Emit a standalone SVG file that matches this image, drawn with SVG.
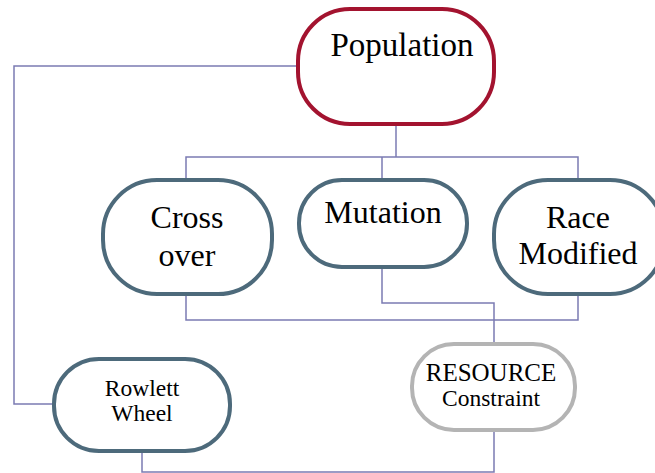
<svg xmlns="http://www.w3.org/2000/svg" width="655" height="473" viewBox="0 0 655 473">
<style>
.n{fill:#fff;stroke-width:4}
.b{stroke:#4D6A7B}
.c{fill:none;stroke:#7B7BB3;stroke-width:1.5}
.t{font-family:'Liberation Serif','Times New Roman',Times,serif;fill:#000;text-anchor:middle}
.L{font-size:33px}.M{font-size:32px}.S{font-size:23.5px}.R{font-size:25px}
</style>
<rect width="655" height="473" fill="#fff"/>
<g id="connectors" class="c">
<polyline points="297,66 14,66 14,404 52,404"/>
<polyline points="396,124 396,157"/>
<polyline points="186,179 186,157 578,157 578,179"/>
<polyline points="382,157 382,179"/>
<polyline points="186,295 186,320 494,320"/>
<polyline points="382,267 382,303 494,303 494,343"/>
<polyline points="578,295 578,320 494,320"/>
<polyline points="142,452 142,472 494,472 494,430"/>
</g>
<g id="population">
<rect class="n" x="298" y="9" width="196" height="115" rx="52" stroke="#A3132F"/>
<text class="t L" x="402" y="56">Population</text>
</g>
<g id="crossover">
<rect class="n b" x="103" y="180" width="169" height="114" rx="54"/>
<text class="t M" x="187" y="228">Cross</text>
<text class="t M" x="187" y="266">over</text>
</g>
<g id="mutation">
<rect class="n b" x="299" y="180" width="168" height="87" rx="43"/>
<text class="t M" x="383" y="223">Mutation</text>
</g>
<g id="race">
<rect class="n b" x="494" y="180" width="170" height="114" rx="54"/>
<text class="t M" x="578" y="228">Race</text>
<text class="t M" x="578" y="264">Modified</text>
</g>
<g id="rowlett">
<rect class="n b" x="54" y="359" width="176" height="92" rx="45"/>
<text class="t S" x="142" y="396">Rowlett</text>
<text class="t S" x="142" y="421">Wheel</text>
</g>
<g id="resource">
<rect class="n" x="412" y="344" width="163" height="86" rx="42" stroke="#B4B4B4"/>
<text class="t R" x="491" y="381">RESOURCE</text>
<text class="t S" x="491" y="406">Constraint</text>
</g>
</svg>
